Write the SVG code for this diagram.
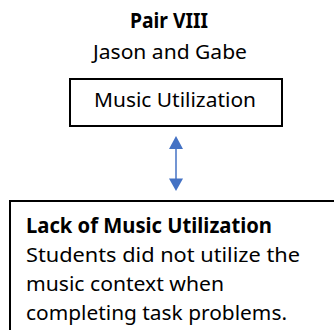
<svg xmlns="http://www.w3.org/2000/svg" width="334" height="330" viewBox="0 0 334 330">
  <style>
    .t { font-family: "Noto Sans", "Open Sans", sans-serif; font-size: 20.5px; fill: #000; }
    .b { font-weight: bold; }
    .box { fill: #fff; stroke: #000; stroke-width: 2; }
    .link { stroke: #4472C4; stroke-width: 1.5; fill: none; }
    .head { fill: #4472C4; }
  </style>
  <rect width="334" height="330" fill="#fff"/>

  <!-- title -->
  <g id="title">
    <text class="t b" x="130" y="28" textLength="78" lengthAdjust="spacingAndGlyphs">Pair VIII</text>
    <text class="t" x="93" y="58.5" textLength="154" lengthAdjust="spacingAndGlyphs">Jason and Gabe</text>
  </g>

  <!-- upper node -->
  <g id="music-utilization">
    <rect class="box" x="70" y="79" width="212" height="47"/>
    <text class="t" x="94" y="107" textLength="162" lengthAdjust="spacingAndGlyphs">Music Utilization</text>
  </g>

  <!-- two-way connector -->
  <g id="connectors">
    <line class="link" x1="176" y1="146" x2="176" y2="181"/>
    <polygon class="head" points="176,136 183,149 169,149"/>
    <polygon class="head" points="176,191 183,178.5 169,178.5"/>
  </g>

  <!-- lower node -->
  <g id="lack-of-music-utilization">
    <rect class="box" x="10" y="201" width="340" height="150"/>
    <text class="t b" x="26" y="232.5" textLength="246" lengthAdjust="spacingAndGlyphs">Lack of Music Utilization</text>
    <text class="t" x="26" y="261.5" textLength="274" lengthAdjust="spacingAndGlyphs">Students did not utilize the</text>
    <text class="t" x="26" y="291" textLength="198" lengthAdjust="spacingAndGlyphs">music context when</text>
    <text class="t" x="26" y="320" textLength="261" lengthAdjust="spacingAndGlyphs">completing task problems.</text>
  </g>
</svg>
